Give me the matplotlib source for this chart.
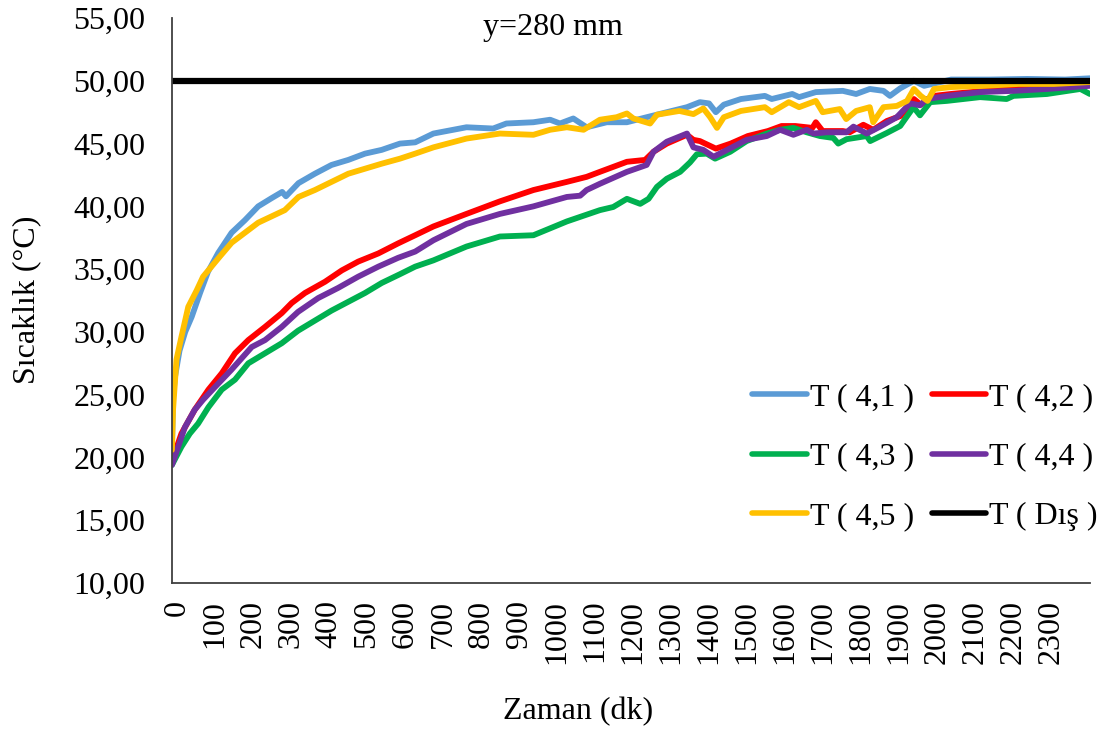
import matplotlib
matplotlib.use('Agg')
from matplotlib import pyplot as plt
from matplotlib.ticker import FuncFormatter
from matplotlib.transforms import ScaledTranslation

plt.rcParams['font.family'] = ['Liberation Serif', 'DejaVu Serif']

# readings taken off the original chart (time in dk, temperature in C)
t41 = [0, 3, 8, 20, 35, 52, 74, 95, 122, 157, 192, 227, 262, 290, 300, 333, 376, 420, 464,
       508, 552, 600, 640, 688, 775, 845, 880, 951, 995, 1021, 1056, 1091, 1144, 1197, 1249,
       1302, 1355, 1389, 1413, 1431, 1452, 1497, 1560, 1578, 1632, 1650, 1694, 1765, 1800,
       1836, 1872, 1889, 1916, 1952, 1979, 2050, 2150, 2250, 2350, 2415]
v41 = [20.6, 24.8, 26.4, 28.5, 30.0, 31.2, 33.1, 34.8, 36.3, 37.9, 38.9, 40.0, 40.65, 41.15,
       40.8, 41.85, 42.6, 43.3, 43.7, 44.2, 44.5, 45.0, 45.1, 45.8, 46.3, 46.2, 46.6, 46.7,
       46.9, 46.6, 47.0, 46.3, 46.7, 46.7, 47.1, 47.5, 47.9, 48.3, 48.2, 47.5, 48.1, 48.55,
       48.8, 48.55, 48.95, 48.7, 49.1, 49.2, 48.95, 49.35, 49.2, 48.8, 49.4, 50.0, 49.6,
       50.1, 50.1, 50.15, 50.1, 50.2]

t42 = [0, 25, 60, 96, 131, 166, 201, 245, 289, 315, 350, 403, 447, 490, 543, 595, 640, 688,
       775, 863, 951, 1039, 1091, 1126, 1197, 1245, 1267, 1302, 1355, 1372, 1389, 1431, 1470,
       1515, 1568, 1604, 1640, 1685, 1694, 1712, 1765, 1783, 1819, 1845, 1881, 1917, 1952,
       1970, 2005, 2049, 2138, 2170, 2227, 2316, 2415]
v42 = [19.7, 21.9, 23.8, 25.4, 26.7, 28.3, 29.35, 30.4, 31.5, 32.3, 33.1, 34.0, 34.9, 35.6,
       36.25, 37.05, 37.7, 38.4, 39.4, 40.4, 41.3, 41.95, 42.35, 42.75, 43.55, 43.7, 44.35,
       45.0, 45.7, 45.3, 45.2, 44.6, 45.0, 45.6, 46.0, 46.4, 46.4, 46.25, 46.7, 46.0, 46.0,
       45.9, 46.5, 46.1, 46.8, 47.2, 48.55, 48.1, 48.8, 48.95, 49.2, 49.4, 49.4, 49.55, 49.7]

t43 = [0, 25, 47, 69, 96, 131, 166, 201, 245, 289, 332, 376, 420, 464, 508, 552, 600, 640,
       688, 775, 863, 951, 1039, 1126, 1161, 1197, 1232, 1254, 1276, 1302, 1337, 1363, 1381,
       1407, 1429, 1469, 1512, 1565, 1600, 1635, 1670, 1705, 1740, 1753, 1775, 1828, 1837,
       1881, 1916, 1951, 1968, 1995, 2039, 2126, 2196, 2214, 2302, 2390, 2415]
v43 = [19.4, 20.85, 21.9, 22.7, 24.0, 25.4, 26.2, 27.5, 28.3, 29.1, 30.1, 30.9, 31.7, 32.4,
       33.1, 33.9, 34.6, 35.2, 35.7, 36.8, 37.6, 37.7, 38.8, 39.7, 39.95, 40.6, 40.2, 40.6,
       41.55, 42.2, 42.75, 43.5, 44.15, 44.2, 43.8, 44.35, 45.2, 45.8, 46.1, 46.25, 45.9,
       45.6, 45.45, 45.0, 45.35, 45.6, 45.2, 45.85, 46.4, 47.9, 47.25, 48.3, 48.4, 48.7,
       48.55, 48.8, 48.95, 49.35, 48.95]

t44 = [0, 34, 60, 82, 113, 157, 210, 245, 289, 332, 385, 437, 490, 543, 595, 640, 688, 775,
       863, 951, 1039, 1074, 1091, 1126, 1197, 1249, 1267, 1302, 1355, 1372, 1398, 1425, 1451,
       1512, 1565, 1600, 1635, 1670, 1688, 1723, 1775, 1793, 1828, 1863, 1907, 1942, 1968,
       1986, 2039, 2126, 2214, 2302, 2415]
v44 = [19.4, 22.4, 23.8, 24.6, 25.6, 27.0, 28.8, 29.35, 30.4, 31.6, 32.7, 33.5, 34.4, 35.2,
       35.9, 36.4, 37.3, 38.6, 39.4, 40.0, 40.75, 40.85, 41.3, 41.8, 42.75, 43.3, 44.35,
       45.15, 45.8, 44.7, 44.5, 43.95, 44.35, 45.3, 45.6, 46.1, 45.7, 46.1, 45.8, 45.9, 45.9,
       46.35, 45.8, 46.35, 47.1, 48.2, 48.05, 48.55, 48.8, 49.1, 49.2, 49.35, 49.6]

t45 = [0, 3, 12, 25, 43, 65, 82, 104, 126, 157, 192, 227, 262, 297, 333, 376, 420, 464, 508,
       552, 600, 640, 688, 775, 863, 951, 995, 1039, 1083, 1126, 1170, 1197, 1214, 1258, 1276,
       1335, 1372, 1398, 1416, 1434, 1452, 1497, 1560, 1578, 1623, 1650, 1694, 1712, 1757,
       1774, 1800, 1836, 1845, 1872, 1907, 1934, 1952, 1970, 1988, 2005, 2049, 2138, 2227,
       2320, 2415]
v45 = [20.6, 23.8, 27.8, 29.6, 32.0, 33.3, 34.4, 35.2, 36.0, 37.1, 37.9, 38.7, 39.2, 39.7,
       40.75, 41.3, 41.95, 42.6, 43.0, 43.4, 43.8, 44.2, 44.7, 45.4, 45.8, 45.7, 46.1, 46.3,
       46.1, 46.9, 47.1, 47.4, 47.0, 46.6, 47.3, 47.6, 47.35, 47.8, 47.1, 46.25, 47.1, 47.6,
       47.9, 47.5, 48.3, 47.9, 48.4, 47.5, 47.75, 46.95, 47.6, 47.9, 46.7, 47.9, 48.0, 48.4,
       49.35, 48.8, 48.4, 49.35, 49.5, 49.6, 49.75, 49.75, 49.9]

t_dis = [0, 2415]
v_dis = [50.0, 50.0]

series = [
    (t41, v41, '#5B9BD5', 'T ( 4,1 )'),
    (t42, v42, '#FF0000', 'T ( 4,2 )'),
    (t43, v43, '#00B050', 'T ( 4,3 )'),
    (t44, v44, '#7030A0', 'T ( 4,4 )'),
    (t45, v45, '#FFC000', 'T ( 4,5 )'),
    (t_dis, v_dis, '#000000', 'T ( Dış )'),
]

xticks = list(range(0, 2400, 100))
yticks = list(range(10, 60, 5))

fig = plt.figure(figsize=(11.02, 7.33), dpi=100)
ax = fig.add_axes([0.156, 0.2046, 0.833, 0.7708])

lines = {}
for t, v, color, label in series:
    lw = 4.5 if label == 'T ( Dış )' else 4.2
    ln, = ax.plot(t, v, color=color, linewidth=lw, label=label,
                  solid_joinstyle='round', solid_capstyle='round')
    lines[label] = ln

ax.set_xlim(0, 2415)
ax.set_ylim(10, 55)
ax.set_xticks(xticks)
ax.set_xticklabels([str(x) for x in xticks], rotation=90)
ax.set_yticks(yticks)
ax.yaxis.set_major_formatter(FuncFormatter(lambda v, p: ('%.2f' % v).replace('.', ',')))
ax.tick_params(axis='both', length=0, labelsize=23)
ax.tick_params(axis='y', pad=19)
ax.tick_params(axis='x', pad=12)
for lab in ax.get_xticklabels():
    lab.set_transform(lab.get_transform() + ScaledTranslation(0.05, 0, fig.dpi_scale_trans))

for side in ['top', 'right']:
    ax.spines[side].set_visible(False)
for side in ['left', 'bottom']:
    ax.spines[side].set_color('#404040')
    ax.spines[side].set_linewidth(1.3)

# legend in row order like the original
order = ['T ( 4,1 )', 'T ( 4,3 )', 'T ( 4,5 )', 'T ( 4,2 )', 'T ( 4,4 )', 'T ( Dış )']
leg = ax.legend([lines[k] for k in order], order, ncol=2, loc='center',
                bbox_to_anchor=(925 / 1102, 1 - 457 / 733), bbox_transform=fig.transFigure,
                frameon=False, fontsize=23, handlelength=1.7, handletextpad=0.1,
                columnspacing=0.55, labelspacing=0.95, borderpad=0)
for h in leg.get_lines():
    h.set_linewidth(4.0)

fig.text(553 / 1102, 1 - 28 / 733, 'y=280 mm', ha='center', va='center', fontsize=23)
fig.text(27 / 1102, 1 - 300 / 733, 'Sıcaklık (°C)', ha='center', va='center',
         rotation=90, fontsize=23)
fig.text(578 / 1102, 1 - 712 / 733, 'Zaman (dk)', ha='center', va='center', fontsize=23)

fig.savefig('out.png', dpi=100)
